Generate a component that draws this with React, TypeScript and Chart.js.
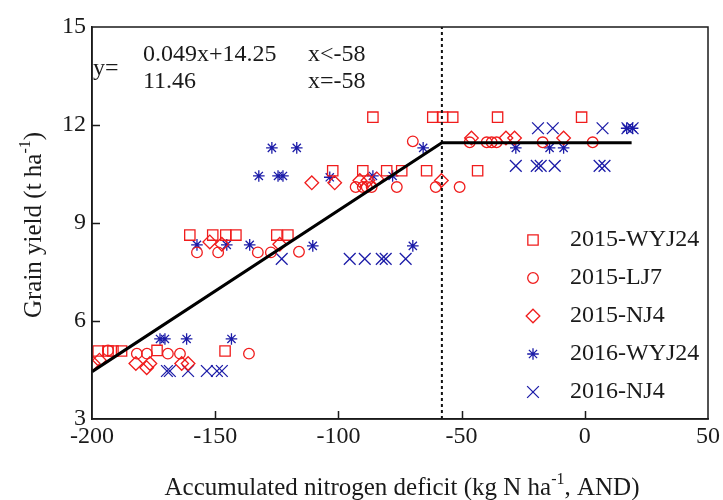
import React, { useEffect, useRef } from 'react';
import { Chart, registerables } from 'chart.js';
import { drawPoint } from 'chart.js/helpers';

Chart.register(...registerables);

const FONT = "'Liberation Serif', 'Times New Roman', serif";
const RED = '#f01c1c';
const BLUE = '#1c1ca8';
const INK = '#1a1a1a';

const seriesNames = ['2015-WYJ24', '2015-LJ7', '2015-NJ4', '2016-WYJ24', '2016-NJ4'];

const wyj2015X = [-197.5, -193.5, -191.5, -188, -173.6, -146, -160.3, -151, -145.7, -141.6, -125, -120.5, -102.3, -90.1, -80.4, -74.3, -64.2, -43.5, -86, -61.7, -57.7, -53.6, -35.4, -1.3];
const wyj2015Y = [5.08, 5.08, 5.08, 5.08, 5.1, 5.08, 8.63, 8.63, 8.63, 8.63, 8.63, 8.63, 10.6, 10.6, 10.6, 10.6, 10.6, 10.6, 12.24, 12.24, 12.24, 12.24, 12.24, 12.24];

const lj2015X = [-193.5, -181.8, -177.7, -169.2, -164.3, -136.3, -157.4, -148.8, -132.7, -127.4, -116, -69.8, -93, -90.1, -88.5, -86.5, -76.3, -60.5, -50.8, -46.7, -39.8, -37.8, -35.8, -17.1, 3.2];
const lj2015Y = [5.1, 5.0, 5.0, 5.0, 5.0, 5.0, 8.1, 8.1, 8.1, 8.1, 8.12, 11.5, 10.1, 10.1, 10.1, 10.1, 10.1, 10.1, 10.1, 11.47, 11.47, 11.47, 11.47, 11.47, 11.47];

const nj2015X = [-199.5, -197, -182.2, -177.8, -176.5, -163.6, -161, -152.2, -147.3, -123.8, -110.8, -101.5, -91.3, -88, -84.4, -58.2, -46, -32, -28.5, -8.6];
const nj2015Y = [4.7, 4.8, 4.7, 4.57, 4.7, 4.7, 4.7, 8.42, 8.35, 8.35, 10.23, 10.23, 10.3, 10.3, 10.35, 10.3, 11.6, 11.6, 11.6, 11.6];

const wyj2016X = [-172.4, -170.4, -161.6, -143.4, -157.4, -145.3, -136, -110.4, -69.8, -127, -116.9, -132.3, -124.5, -122.5, -103.5, -86, -78, -65.6, -28, -14.3, -8.6, 17, 19.4];
const wyj2016Y = [5.45, 5.45, 5.45, 5.45, 8.33, 8.33, 8.33, 8.3, 8.3, 11.3, 11.3, 10.44, 10.44, 10.44, 10.4, 10.44, 10.44, 11.3, 11.3, 11.3, 11.3, 11.9, 11.9];

const nj2016X = [-169.6, -168.4, -161, -153.4, -149.3, -147.3, -123, -95.4, -89.3, -82.4, -80.8, -72.7, -19, -13, 7.2, 17.3, 19.4, -28, -19.5, -17.9, -12.2, 6, 8];
const nj2016Y = [4.47, 4.47, 4.47, 4.47, 4.47, 4.47, 7.9, 7.9, 7.9, 7.9, 7.9, 7.9, 11.9, 11.9, 11.9, 11.9, 11.9, 10.75, 10.75, 10.75, 10.75, 10.75, 10.75];

const fitX = [-200, -58, 19];
const fitY = [4.45, 11.46, 11.46];
const breakX = [-58, -58];
const breakY = [3, 15];

const xTicks = [-200, -150, -100, -50, 0, 50];
const yTicks = [3, 6, 9, 12, 15];

const eqLabel = 'y=';
const eqLines = ['0.049x+14.25', '11.46'];
const eqConds = ['x<-58', 'x=-58'];

const styles = [
  { color: RED, pointStyle: 'rect', radius: 7.3 },
  { color: RED, pointStyle: 'circle', radius: 5.3 },
  { color: RED, pointStyle: 'rectRot', radius: 6.8 },
  { color: BLUE, pointStyle: 'star', radius: 5.8 },
  { color: BLUE, pointStyle: 'crossRot', radius: 8.3 },
];

const zip = (xs: number[], ys: number[]) => xs.map((x, i) => ({ x, y: ys[i] }));

function drawRich(ctx: CanvasRenderingContext2D, parts: { t: string; sup?: boolean }[], cx: number, cy: number) {
  const big = `25px ${FONT}`;
  const small = `16px ${FONT}`;
  let total = 0;
  const widths = parts.map((p) => {
    ctx.font = p.sup ? small : big;
    const w = ctx.measureText(p.t).width;
    total += w;
    return w;
  });
  let x = cx - total / 2;
  ctx.textAlign = 'left';
  ctx.textBaseline = 'middle';
  parts.forEach((p, i) => {
    ctx.font = p.sup ? small : big;
    ctx.fillText(p.t, x, p.sup ? cy - 8 : cy);
    x += widths[i];
  });
}

const decor = {
  id: 'decor',
  afterDraw(chart: any) {
    const ctx: CanvasRenderingContext2D = chart.ctx;
    const { left, right, top, bottom } = chart.chartArea;
    const xs = chart.scales.x;
    const ys = chart.scales.y;
    ctx.save();
    ctx.strokeStyle = INK;
    ctx.lineWidth = 1.5;
    ctx.strokeRect(left, top, right - left, bottom - top);
    ctx.beginPath();
    xTicks.slice(1, -1).forEach((v) => {
      const p = Math.round(xs.getPixelForValue(v)) + 0.5;
      ctx.moveTo(p, bottom);
      ctx.lineTo(p, bottom - 8);
    });
    yTicks.slice(1, -1).forEach((v) => {
      const p = Math.round(ys.getPixelForValue(v)) + 0.5;
      ctx.moveTo(left, p);
      ctx.lineTo(left + 8, p);
    });
    ctx.stroke();

    ctx.fillStyle = INK;
    ctx.font = `24px ${FONT}`;
    ctx.textBaseline = 'middle';
    ctx.textAlign = 'left';
    ctx.fillText(eqLabel, 93, 69);
    ctx.fillText(eqLines[0], 143, 55);
    ctx.fillText(eqLines[1], 143, 82);
    ctx.fillText(eqConds[0], 308, 55);
    ctx.fillText(eqConds[1], 308, 82);

    styles.forEach((s, i) => {
      const cy = 240 + i * 38;
      ctx.strokeStyle = s.color;
      ctx.fillStyle = 'rgba(0,0,0,0)';
      ctx.lineWidth = 1.3;
      drawPoint(ctx, { pointStyle: s.pointStyle as any, radius: s.radius, rotation: 0, borderWidth: 1.3 }, 533, cy);
      ctx.fillStyle = INK;
      ctx.font = `24px ${FONT}`;
      ctx.textAlign = 'left';
      ctx.textBaseline = 'middle';
      ctx.fillText(seriesNames[i], 570, cy);
    });

    ctx.fillStyle = INK;
    drawRich(ctx, [{ t: 'Accumulated nitrogen deficit (kg N ha' }, { t: '-1', sup: true }, { t: ', AND)' }], (left + right) / 2 + 2, 488);
    ctx.save();
    ctx.translate(34, (top + bottom) / 2 + 2);
    ctx.rotate(-Math.PI / 2);
    drawRich(ctx, [{ t: 'Grain yield (t ha' }, { t: '-1', sup: true }, { t: ')' }], 0, 0);
    ctx.restore();
    ctx.restore();
  },
};

export default function App() {
  const ref = useRef<HTMLCanvasElement | null>(null);
  useEffect(() => {
    document.body.style.margin = '0';
    if (!ref.current) return;
    const seriesData = [
      zip(wyj2015X, wyj2015Y),
      zip(lj2015X, lj2015Y),
      zip(nj2015X, nj2015Y),
      zip(wyj2016X, wyj2016Y),
      zip(nj2016X, nj2016Y),
    ];
    const datasets: any[] = seriesData.map((d, i) => ({
      label: seriesNames[i],
      data: d,
      pointStyle: styles[i].pointStyle,
      pointRadius: styles[i].radius,
      pointBorderWidth: 1.3,
      borderColor: styles[i].color,
      backgroundColor: 'rgba(0,0,0,0)',
      showLine: false,
      order: 2,
    }));
    datasets.push({
      label: 'fit',
      data: zip(fitX, fitY),
      showLine: true,
      pointRadius: 0,
      borderColor: '#000',
      borderWidth: 3,
      order: 1,
    });
    datasets.push({
      label: 'break',
      data: zip(breakX, breakY),
      showLine: true,
      pointRadius: 0,
      borderColor: '#111',
      borderWidth: 2,
      borderDash: [3, 3],
      order: 1,
    });
    const chart = new Chart(ref.current, {
      type: 'scatter',
      data: { datasets },
      options: {
        responsive: false,
        animation: false,
        devicePixelRatio: 1,
        layout: { padding: { top: 27, right: 14.5, left: 0, bottom: 0 } },
        plugins: { legend: { display: false }, tooltip: { enabled: false } },
        scales: {
          x: {
            type: 'linear',
            min: -200,
            max: 50,
            afterFit: (s: any) => { s.height = 81; },
            afterBuildTicks: (s: any) => { s.ticks = xTicks.map((v) => ({ value: v })); },
            ticks: { color: INK, font: { family: FONT, size: 24 }, padding: 3, maxRotation: 0 },
            grid: { drawOnChartArea: false, drawTicks: false },
            border: { color: INK, width: 1.5 },
          },
          y: {
            min: 3,
            max: 15,
            afterFit: (s: any) => { s.width = 92; },
            afterBuildTicks: (s: any) => { s.ticks = yTicks.map((v) => ({ value: v })); },
            ticks: { color: INK, font: { family: FONT, size: 24 }, padding: 6 },
            grid: { drawOnChartArea: false, drawTicks: false },
            border: { color: INK, width: 1.5 },
          },
        },
      },
      plugins: [decor],
    });
    return () => chart.destroy();
  }, []);
  return <canvas ref={ref} width={723} height={500} style={{ display: 'block', width: 723, height: 500 }} />;
}
